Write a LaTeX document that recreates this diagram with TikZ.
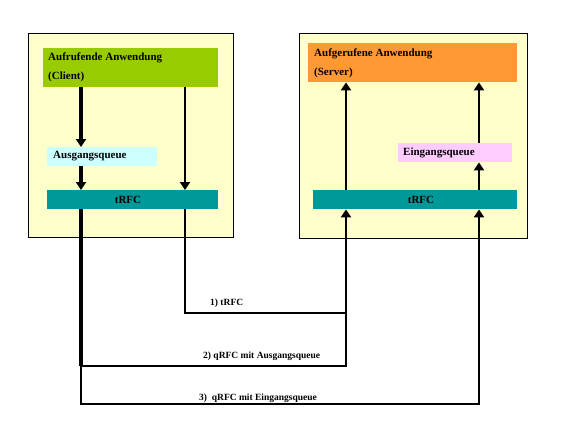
\documentclass[tikz,border=0pt]{standalone}
\usepackage{fontspec}
\setmainfont{Liberation Serif}
\usetikzlibrary{arrows.meta}
\definecolor{cream}{HTML}{FFFFCC}
\definecolor{appgreen}{HTML}{99CC00}
\definecolor{apporange}{HTML}{FF9933}
\definecolor{qcyan}{HTML}{CCFFFF}
\definecolor{qpink}{HTML}{FFCCFF}
\definecolor{rfcteal}{HTML}{009999}
\begin{document}
\begin{tikzpicture}[x=1pt,y=-1pt,
  frame/.style={draw=black,line width=1pt,fill=cream,anchor=north west,inner sep=0pt},
  blk/.style={anchor=north west,inner sep=0pt,draw=none},
  lbl/.style={font=\fontsize{11}{13}\selectfont\bfseries,inner sep=0pt},
  sml/.style={font=\fontsize{9.5}{11}\selectfont\bfseries,inner sep=0pt},
  arr/.style={-{Triangle[width=10pt,length=8pt]}},
  heavy/.style={line width=3.2pt},
  light/.style={line width=2pt}]
\useasboundingbox (0,0) rectangle (569,428);
% frames
\node[frame,minimum width=205pt,minimum height=204pt] (L) at (28,33) {};
\node[frame,minimum width=228pt,minimum height=205pt] (R) at (299,33) {};
% left blocks
\node[blk,fill=appgreen,minimum width=175pt,minimum height=39pt] (green) at (43,48) {};
\node[lbl,anchor=west] (gt1) at (48,57.5) {Aufrufende Anwendung};
\node[lbl,anchor=west] (gt2) at (48,77) {(Client)};
\node[blk,fill=qcyan,minimum width=110pt,minimum height=19pt] (aq) at (47,147) {};
\node[lbl,anchor=west] (aqt) at (53,156.5) {Ausgangsqueue};
\node[blk,fill=rfcteal,minimum width=171pt,minimum height=19pt] (tL) at (47,190) {};
\node[lbl] (tLt) at (128,199.5) {tRFC};
% right blocks
\node[blk,fill=apporange,minimum width=209pt,minimum height=39pt] (orange) at (308,43) {};
\node[lbl,anchor=west] (ot1) at (314,54) {Aufgerufene Anwendung};
\node[lbl,anchor=west] (ot2) at (314,73) {(Server)};
\node[blk,fill=qpink,minimum width=114pt,minimum height=19pt] (eq) at (398,143) {};
\node[lbl,anchor=west] (eqt) at (403,152.5) {Eingangsqueue};
\node[blk,fill=rfcteal,minimum width=204pt,minimum height=19pt] (tR) at (313,190) {};
\node[lbl] (tRt) at (421,199.5) {tRFC};
% columns
\coordinate (xL) at (81,0);
\coordinate (xR) at (185,0);
\coordinate (xA) at (346,0);
\coordinate (xB) at (479,0);
\coordinate (p1) at (346,313);
\coordinate (j2) at (81,366);
\coordinate (p2) at (346,366);
\coordinate (p3) at (479,404);
% left arrows
\draw[heavy,arr] (green.south -| xL) -- (aq.north -| xL);
\draw[heavy,arr] (aq.south -| xL) -- (tL.north -| xL);
\draw[light,arr] (green.south -| xR) -- (tL.north -| xR);
% right arrows
\draw[light,arr] (tR.north -| xA) -- (orange.south -| xA);
\draw[light,arr] (eq.north -| xB) -- (orange.south -| xB);
\draw[light,arr] (tR.north -| xB) -- (eq.south -| xB);
% bottom connections
\draw[light,line join=miter] (tL.south -| xR) |- (p1);
\draw[light,arr,line join=miter] (j2) -- (p2) -- (tR.south -| p2);
\draw[heavy,line join=miter] (tL.south -| xL) -- (j2);
\draw[light,arr,line join=miter] (j2) |- (p3) -- (tR.south -| p3);
% labels
\node[sml,anchor=west] (l1) at (210,303) {1) tRFC};
\node[sml,anchor=west] (l2) at (203,356) {2) qRFC mit Ausgangsqueue};
\node[sml,anchor=west] (l3) at (199,398) {3)\ \ qRFC mit Eingangsqueue};
\end{tikzpicture}
\end{document}
